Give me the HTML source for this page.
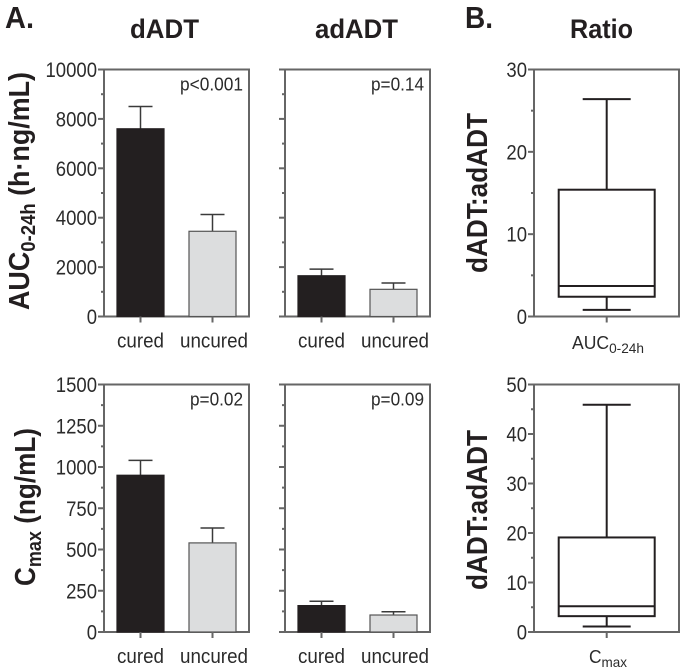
<!DOCTYPE html>
<html lang="en">
<head>
<meta charset="utf-8">
<title>dADT and adADT exposure</title>
<style>
html,body{margin:0;padding:0;background:#fff;width:680px;height:670px;overflow:hidden}
svg{display:block}
text{font-family:"Liberation Sans",sans-serif;fill:#2b2b2b}
.b{font-weight:bold;fill:#231f20}
</style>
</head>
<body>
<svg id="chart" width="680" height="670" viewBox="0 0 680 670" xmlns="http://www.w3.org/2000/svg">
  <text class="b" x="5" y="28" font-size="31" textLength="29" lengthAdjust="spacingAndGlyphs">A.</text>
  <text class="b" x="465" y="28" font-size="31" textLength="28" lengthAdjust="spacingAndGlyphs">B.</text>
  <text class="b" x="130" y="38" font-size="27" textLength="69" lengthAdjust="spacingAndGlyphs">dADT</text>
  <text class="b" x="315" y="38" font-size="27" textLength="83" lengthAdjust="spacingAndGlyphs">adADT</text>
  <text class="b" x="570" y="38" font-size="27" textLength="63" lengthAdjust="spacingAndGlyphs">Ratio</text>
  <text class="b" transform="translate(29 310) rotate(-90)" font-size="29" textLength="238" lengthAdjust="spacingAndGlyphs">AUC<tspan font-size="20" dy="6">0-24h</tspan><tspan dy="-6"> (h·ng/mL)</tspan></text>
  <text class="b" transform="translate(35 586) rotate(-90)" font-size="29" textLength="158" lengthAdjust="spacingAndGlyphs">C<tspan font-size="20" dy="6">max</tspan><tspan dy="-6"> (ng/mL)</tspan></text>
  <text class="b" transform="translate(487 273) rotate(-90)" font-size="29" textLength="160" lengthAdjust="spacingAndGlyphs">dADT:adADT</text>
  <text class="b" transform="translate(487 590) rotate(-90)" font-size="29" textLength="160" lengthAdjust="spacingAndGlyphs">dADT:adADT</text>
  <text x="572" y="349" font-size="18" textLength="72" lengthAdjust="spacingAndGlyphs">AUC<tspan font-size="14" dy="4">0-24h</tspan></text>
  <text x="589" y="663" font-size="18" textLength="38" lengthAdjust="spacingAndGlyphs">C<tspan font-size="14" dy="4">max</tspan></text>
</svg>
<script>
const barCategories = ['cured', 'uncured'];
const aucTicks = [0, 2000, 4000, 6000, 8000, 10000];
const cmaxTicks = [0, 250, 500, 750, 1000, 1250, 1500];
const aucRatioTicks = [0, 10, 20, 30];
const cmaxRatioTicks = [0, 10, 20, 30, 40, 50];

const aucDadtMeans = [7600, 3450];
const aucDadtUpper = [8500, 4130];
const aucAdadtMeans = [1650, 1100];
const aucAdadtUpper = [1920, 1356];
const cmaxDadtMeans = [950, 540];
const cmaxDadtUpper = [1040, 630];
const cmaxAdadtMeans = [160, 103];
const cmaxAdadtUpper = [186, 123];

const aucRatioBox = [0.8, 2.4, 3.7, 15.4, 26.4];
const cmaxRatioBox = [1.1, 3.2, 5.2, 19.1, 45.9];

const svg = document.getElementById('chart');
const NS = 'http://www.w3.org/2000/svg';
const AXIS = '#666666';
const INK = '#231f20';

function make(tag, attrs, parent) {
  const el = document.createElementNS(NS, tag);
  for (const k in attrs) el.setAttribute(k, attrs[k]);
  (parent || svg).appendChild(el);
  return el;
}

function frame(group, box, ticks, showLabels) {
  const max = ticks[ticks.length - 1];
  const y = v => box.bottom - (v / max) * (box.bottom - box.top);
  const rect = make('rect', {x: box.left, y: box.top, width: box.right - box.left, height: box.bottom - box.top, fill: 'none', stroke: AXIS, 'stroke-width': 2}, group);
  
  
  ticks.forEach((t, i) => {
    const major = make('line', {x1: box.left - 6, x2: box.left, y1: y(t), y2: y(t), stroke: AXIS, 'stroke-width': 2}, group);
    
    
    if (i < ticks.length - 1) {
      const mid = (t + ticks[i + 1]) / 2;
      const minor = make('line', {x1: box.left - 3, x2: box.left, y1: y(mid), y2: y(mid), stroke: AXIS, 'stroke-width': 2}, group);
      
      
    }
    if (showLabels) {
      const label = make('text', {x: box.left - 7, y: y(t) + 7.5, 'text-anchor': 'end', 'font-size': 21, textLength: String(t).length * 10.3, lengthAdjust: 'spacingAndGlyphs'}, group);
      
      
      label.textContent = t;
    }
  });
  return y;
}

function barPanel(name, box, ticks, means, upper, pText, pX, showLabels) {
  const group = make('g', {});
  
  
  const y = frame(group, box, ticks, showLabels);
  const fills = [INK, '#dcddde'];
  const strokes = [INK, '#555555'];
  barCategories.forEach((cat, i) => {
    const cx = box.left + 36.5 + i * 72;
    const stem = make('line', {x1: cx, x2: cx, y1: y(upper[i]), y2: y(means[i]), stroke: '#3a3a3a', 'stroke-width': 1.5}, group);
    
    
    const cap = make('line', {x1: cx - 12, x2: cx + 12, y1: y(upper[i]), y2: y(upper[i]), stroke: '#3a3a3a', 'stroke-width': 1.5}, group);
    
    
    const bar = make('rect', {x: cx - 23.5, y: y(means[i]), width: 47, height: y(0) - y(means[i]), fill: fills[i], stroke: strokes[i], 'stroke-width': 1.2}, group);
    
    
    const tick = make('line', {x1: cx, x2: cx, y1: box.bottom, y2: box.bottom + 6, stroke: AXIS, 'stroke-width': 2}, group);
    
    
    const label = make('text', {x: cx + (i === 0 ? 0 : 1.5), y: box.bottom + 31, 'text-anchor': 'middle', 'font-size': 20, textLength: i === 0 ? 47 : 68, lengthAdjust: 'spacingAndGlyphs'}, group);
    
    
    label.textContent = cat;
  });
  const p = make('text', {x: box.right - 6, y: box.top + 21, 'text-anchor': 'end', 'font-size': 18, textLength: pX, lengthAdjust: 'spacingAndGlyphs'}, group);
  
  
  p.textContent = pText;
}

function boxPanel(name, box, ticks, stats) {
  const group = make('g', {});
  
  
  const y = frame(group, box, ticks, true);
  const cx = box.left + 72.7;
  const low = make('line', {x1: cx, x2: cx, y1: y(stats[0]), y2: y(stats[1]), stroke: INK, 'stroke-width': 2}, group);
  
  
  const high = make('line', {x1: cx, x2: cx, y1: y(stats[3]), y2: y(stats[4]), stroke: INK, 'stroke-width': 2}, group);
  
  
  const lowCap = make('line', {x1: cx - 24, x2: cx + 24, y1: y(stats[0]), y2: y(stats[0]), stroke: INK, 'stroke-width': 2}, group);
  
  
  const highCap = make('line', {x1: cx - 24, x2: cx + 24, y1: y(stats[4]), y2: y(stats[4]), stroke: INK, 'stroke-width': 2}, group);
  
  
  const iqr = make('rect', {x: cx - 48, y: y(stats[3]), width: 96, height: y(stats[1]) - y(stats[3]), fill: '#fff', stroke: INK, 'stroke-width': 2}, group);
  
  
  const median = make('line', {x1: cx - 48, x2: cx + 48, y1: y(stats[2]), y2: y(stats[2]), stroke: INK, 'stroke-width': 2}, group);
  
  
  const tick = make('line', {x1: cx, x2: cx, y1: box.bottom, y2: box.bottom + 6, stroke: AXIS, 'stroke-width': 2}, group);
  
  
}

const topRow = {top: 69.5, bottom: 316.5};
const lowRow = {top: 384.5, bottom: 632};
barPanel('auc-dadt-panel', {left: 104, right: 249, top: topRow.top, bottom: topRow.bottom}, aucTicks, aucDadtMeans, aucDadtUpper, 'p<0.001', 63, true);
barPanel('auc-adadt-panel', {left: 285, right: 430, top: topRow.top, bottom: topRow.bottom}, aucTicks, aucAdadtMeans, aucAdadtUpper, 'p=0.14', 53, false);
barPanel('cmax-dadt-panel', {left: 104, right: 249, top: lowRow.top, bottom: lowRow.bottom}, cmaxTicks, cmaxDadtMeans, cmaxDadtUpper, 'p=0.02', 53, true);
barPanel('cmax-adadt-panel', {left: 285, right: 430, top: lowRow.top, bottom: lowRow.bottom}, cmaxTicks, cmaxAdadtMeans, cmaxAdadtUpper, 'p=0.09', 53, false);
boxPanel('auc-ratio-panel', {left: 534, right: 679, top: topRow.top, bottom: topRow.bottom}, aucRatioTicks, aucRatioBox);
boxPanel('cmax-ratio-panel', {left: 534, right: 679, top: lowRow.top, bottom: lowRow.bottom}, cmaxRatioTicks, cmaxRatioBox);
</script>
</body>
</html>
